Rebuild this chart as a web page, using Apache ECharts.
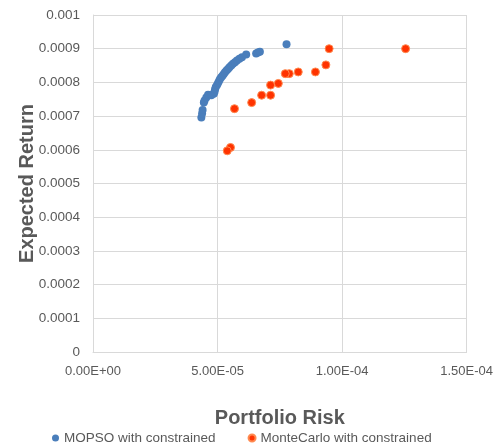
<!DOCTYPE html>
<html>
<head>
<meta charset="utf-8">
<script src="https://cdn.jsdelivr.net/npm/echarts@6/dist/echarts.min.js"></script>
<style>
  html, body { margin: 0; padding: 0; background: #fff; }
  #chart { width: 496px; height: 444px; }
</style>
</head>
<body>
<div id="chart"></div>
<script>
// [risk, expected return]
const mopso = [
  [4.35e-5, 6.96e-4], [4.38e-5, 7.08e-4], [4.40e-5, 7.18e-4], [4.45e-5, 7.40e-4],
  [4.48e-5, 7.46e-4], [4.55e-5, 7.55e-4], [4.62e-5, 7.63e-4], [4.75e-5, 7.62e-4],
  [4.85e-5, 7.66e-4], [4.88e-5, 7.72e-4], [4.90e-5, 7.80e-4], [4.93e-5, 7.86e-4],
  [4.98e-5, 7.92e-4], [5.02e-5, 7.98e-4], [5.06e-5, 8.04e-4], [5.10e-5, 8.10e-4],
  [5.15e-5, 8.15e-4], [5.20e-5, 8.20e-4], [5.25e-5, 8.25e-4], [5.30e-5, 8.30e-4],
  [5.36e-5, 8.35e-4], [5.42e-5, 8.40e-4], [5.48e-5, 8.45e-4], [5.55e-5, 8.50e-4],
  [5.62e-5, 8.55e-4], [5.70e-5, 8.60e-4], [5.78e-5, 8.65e-4], [5.88e-5, 8.70e-4],
  [5.98e-5, 8.75e-4], [6.15e-5, 8.83e-4], [6.55e-5, 8.86e-4], [6.62e-5, 8.89e-4],
  [6.70e-5, 8.91e-4], [7.77e-5, 9.13e-4]
];
const monteCarlo = [
  [12.55e-5, 9.00e-4], [9.48e-5, 9.00e-4], [9.35e-5, 8.52e-4], [8.93e-5, 8.31e-4],
  [8.24e-5, 8.31e-4], [7.88e-5, 8.26e-4], [7.72e-5, 8.26e-4], [7.44e-5, 7.97e-4],
  [7.13e-5, 7.92e-4], [7.13e-5, 7.62e-4], [6.77e-5, 7.62e-4], [6.37e-5, 7.40e-4],
  [5.68e-5, 7.22e-4], [5.52e-5, 6.07e-4], [5.39e-5, 5.97e-4]
];
const seriesNames = ['MOPSO with constrained', 'MonteCarlo with constrained'];

function sci(v) {
  if (v === 0) return '0.00E+00';
  let e = Math.floor(Math.log10(Math.abs(v)) + 1e-9);
  let m = v / Math.pow(10, e);
  let s = e < 0 ? '-' : '+';
  let ae = Math.abs(e);
  return m.toFixed(2) + 'E' + s + (ae < 10 ? '0' : '') + ae;
}

const ec = echarts.init(document.getElementById('chart'));
const txt = '#595959';
const gridCol = '#d9d9d9';
ec.setOption({
  animation: false,
  textStyle: { fontFamily: 'Liberation Sans' },
  grid: { left: 93, right: 27, top: 15, bottom: 92 },
  legend: {
    left: 47, top: 426,
    icon: 'circle', itemWidth: 7, itemHeight: 7, itemGap: 32,
    textStyle: { color: txt, fontSize: 13.5 },
    data: seriesNames
  },
  xAxis: {
    type: 'value', min: 0, max: 1.5e-4, interval: 5e-5,
    name: 'Portfolio Risk', nameLocation: 'middle', nameGap: 56,
    nameMoveOverlap: false,
    nameTextStyle: { color: txt, fontSize: 20, fontWeight: 'bold' },
    axisLine: { show: true, lineStyle: { color: gridCol } },
    axisTick: { show: false },
    axisLabel: { color: txt, fontSize: 13, margin: 13, formatter: sci },
    splitLine: { show: true, lineStyle: { color: gridCol } }
  },
  yAxis: {
    type: 'value', min: 0, max: 0.001, interval: 0.0001,
    name: 'Expected Return', nameLocation: 'middle', nameGap: 56,
    nameMoveOverlap: false,
    nameTextStyle: { color: txt, fontSize: 20, fontWeight: 'bold' },
    axisLine: { show: true, lineStyle: { color: gridCol } },
    axisTick: { show: false },
    axisLabel: { color: txt, fontSize: 13.5, margin: 13,
      formatter: v => v === 0 ? '0' : String(+v.toFixed(4)) },
    splitLine: { show: true, lineStyle: { color: gridCol } }
  },
  series: [
    {
      name: seriesNames[0], type: 'scatter', data: mopso, symbolSize: 8,
      itemStyle: { color: '#4a7ebb', opacity: 1 }
    },
    {
      name: seriesNames[1], type: 'scatter', data: monteCarlo, symbolSize: 8,
      itemStyle: { color: '#ff3300', borderColor: '#ff8a50', borderWidth: 1, opacity: 1 }
    }
  ]
});
</script>
</body>
</html>
